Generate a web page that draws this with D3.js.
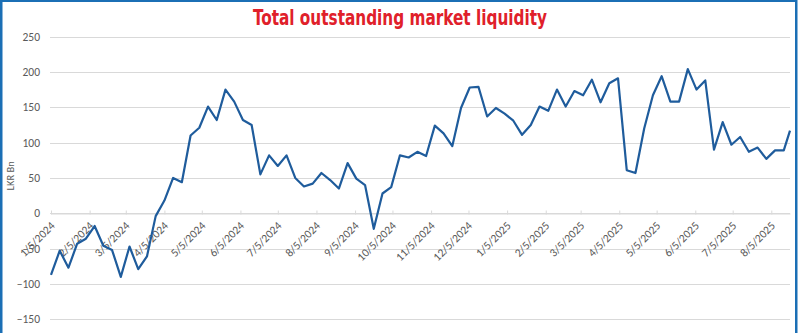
<!DOCTYPE html>
<html>
<head>
<meta charset="utf-8">
<script src="https://cdn.jsdelivr.net/npm/d3@7"></script>
<style>
  html, body { margin: 0; padding: 0; background: #ffffff; }
  svg { display: block; }
</style>
</head>
<body>
<svg id="chart" width="800" height="333"></svg>
<script>
// ---- data ----
const titleText = "Total outstanding market liquidity";
const yAxisTitle = "LKR Bn";

const dates = [
  "2024-01-05","2024-01-12","2024-01-19","2024-01-26",
  "2024-02-02","2024-02-09","2024-02-16","2024-02-23",
  "2024-03-01","2024-03-08","2024-03-15","2024-03-22","2024-03-29",
  "2024-04-05","2024-04-12","2024-04-19","2024-04-26",
  "2024-05-03","2024-05-10","2024-05-17","2024-05-24","2024-05-31",
  "2024-06-07","2024-06-14","2024-06-21","2024-06-28",
  "2024-07-05","2024-07-12","2024-07-19","2024-07-26",
  "2024-08-02","2024-08-09","2024-08-16","2024-08-23","2024-08-30",
  "2024-09-06","2024-09-13","2024-09-20","2024-09-27",
  "2024-10-04","2024-10-11","2024-10-18","2024-10-25",
  "2024-11-01","2024-11-08","2024-11-15","2024-11-22","2024-11-29",
  "2024-12-06","2024-12-13","2024-12-20","2024-12-27",
  "2025-01-03","2025-01-10","2025-01-17","2025-01-24","2025-01-31",
  "2025-02-07","2025-02-14","2025-02-21","2025-02-28",
  "2025-03-07","2025-03-14","2025-03-21","2025-03-28",
  "2025-04-04","2025-04-11","2025-04-18","2025-04-25",
  "2025-05-02","2025-05-09","2025-05-16","2025-05-23","2025-05-30",
  "2025-06-06","2025-06-13","2025-06-20","2025-06-27",
  "2025-07-04","2025-07-11","2025-07-18","2025-07-25",
  "2025-08-01","2025-08-08","2025-08-15","2025-08-20"
];

const liquidity = [
  -87, -53, -77, -43,
  -36, -18, -46, -52,
  -90, -47, -79, -61, -4,
  18, 50, 44, 110,
  121, 151, 132, 175, 158,
  132, 125, 55, 82,
  67, 82, 50, 38,
  42, 57, 47, 35, 71,
  49, 40, -22, 28,
  37, 82, 79, 87,
  81, 124, 113, 95, 149,
  178, 179, 137, 149,
  141, 131, 111, 125, 151,
  145, 175, 151, 173,
  167, 189, 157, 184,
  191, 61, 57, 120,
  167, 194, 158, 158, 204,
  175, 188, 90, 129,
  97, 108, 87, 93,
  77, 89, 89, 117
];

const xTickDates = [
  "2024-01-05","2024-02-05","2024-03-05","2024-04-05","2024-05-05",
  "2024-06-05","2024-07-05","2024-08-05","2024-09-05","2024-10-05",
  "2024-11-05","2024-12-05","2025-01-05","2025-02-05","2025-03-05",
  "2025-04-05","2025-05-05","2025-06-05","2025-07-05","2025-08-05"
];
const yTicks = [-150, -100, -50, 0, 50, 100, 150, 200, 250];

// ---- setup ----
const W = 800, H = 333;
const parse = d3.timeParse("%Y-%m-%d");
const fmt = d3.timeFormat("%-m/%-d/%Y");
const data = dates.map((d, i) => ({ date: parse(d), value: liquidity[i] }));

const svg = d3.select("#chart");
const plotLeft = 51, plotRight = 790;

const x = d3.scaleTime()
  .domain(d3.extent(data, d => d.date))
  .range([plotLeft, plotRight]);
const y = d3.scaleLinear()
  .domain([-150, 250])
  .range([319.3, 36.6]);

const textFont = "Carlito, Lato, 'Open Sans', sans-serif";
const gridColor = "#d9d9d9";
const labelColor = "#595959";

// background
svg.append("rect").attr("x", 0).attr("y", 0).attr("width", W).attr("height", H).attr("fill", "#fff");

// gridlines
svg.append("g")
  .selectAll("line")
  .data(yTicks)
  .join("line")
  .attr("x1", plotLeft - 1)
  .attr("x2", plotRight)
  .attr("y1", d => Math.round(y(d)) + 0.5)
  .attr("y2", d => Math.round(y(d)) + 0.5)
  .attr("stroke", gridColor)
  .attr("stroke-width", 1);

// y axis labels
const yAxis = d3.axisLeft(y).tickValues(yTicks).tickSize(0).tickPadding(0);
const gy = svg.append("g").attr("transform", `translate(${plotLeft - 11},0)`).call(yAxis);
gy.select(".domain").remove();
gy.selectAll("text")
  .attr("font-family", textFont)
  .attr("font-size", 11.5)
  .attr("fill", labelColor);

// x axis at zero
const tickDates = xTickDates.map(parse);
const xAxis = d3.axisBottom(x).tickValues(tickDates).tickFormat(fmt).tickSize(4).tickSizeOuter(0);
const gx = svg.append("g").attr("transform", `translate(0,${Math.round(y(0)) + 0.5})`).call(xAxis);
gx.select(".domain").attr("stroke", gridColor);
gx.selectAll(".tick line").attr("stroke", gridColor).attr("y1", -3).attr("y2", 1);
gx.selectAll(".tick text")
  .attr("font-family", textFont)
  .attr("font-size", 11.5)
  .attr("fill", labelColor)
  .attr("text-anchor", "end")
  .attr("dy", 0)
  .attr("y", 0)
  .attr("transform", "translate(4,13) rotate(-45)");

// line
const line = d3.line()
  .x(d => x(d.date))
  .y(d => y(d.value));
svg.append("path")
  .datum(data)
  .attr("d", line)
  .attr("fill", "none")
  .attr("stroke", "#1f5c9c")
  .attr("stroke-width", 2.2)
  .attr("stroke-linejoin", "round");

// y axis title
svg.append("text")
  .attr("transform", `translate(14,${y(53)}) rotate(-90)`)
  .attr("text-anchor", "middle")
  .attr("font-family", textFont)
  .attr("font-size", 10.5)
  .attr("fill", labelColor)
  .text(yAxisTitle);

// title
svg.append("text")
  .attr("x", 400)
  .attr("y", 25)
  .attr("text-anchor", "middle")
  .attr("font-family", "'Liberation Sans Narrow', 'DejaVu Sans Condensed', 'Arial Narrow', sans-serif")
  .attr("font-weight", "bold")
  .attr("font-size", 22)
  .attr("fill", "#e0202a")
  .attr("textLength", 294)
  .attr("lengthAdjust", "spacingAndGlyphs")
  .text(titleText);

// frame
svg.append("rect")
  .attr("x", 1.25).attr("y", 0.75)
  .attr("width", W - 5).attr("height", H + 4)
  .attr("fill", "none")
  .attr("stroke", "#1b6fb5")
  .attr("stroke-width", 2.5);
</script>
</body>
</html>
